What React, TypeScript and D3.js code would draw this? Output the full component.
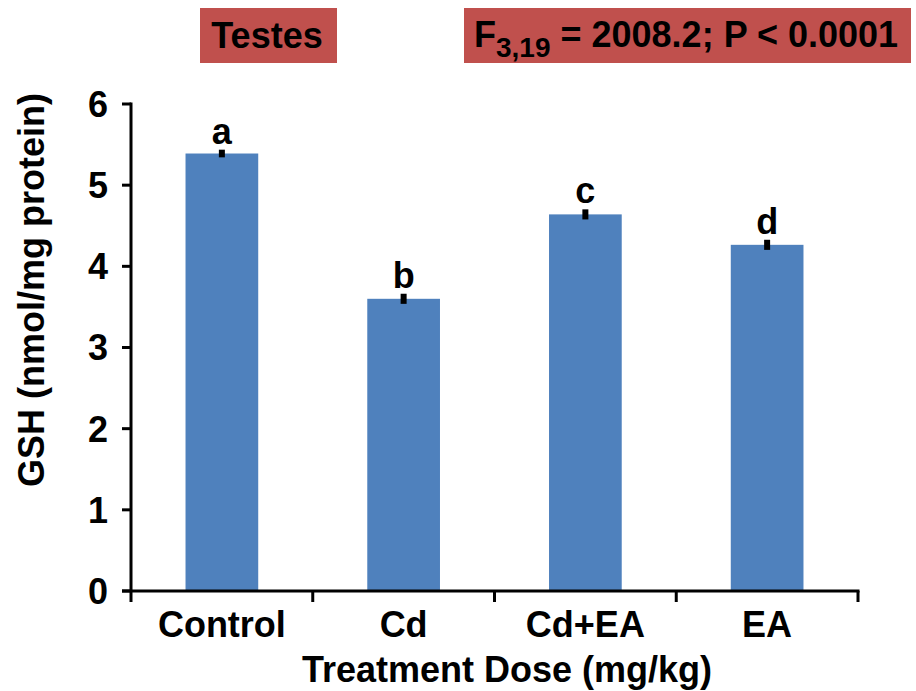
import React from "react";
import * as d3 from "d3";

const categories = ["Control", "Cd", "Cd+EA", "EA"];
const values = [5.39, 3.6, 4.64, 4.265];
const errors = [0.035, 0.05, 0.05, 0.05];
const letters = ["a", "b", "c", "d"];
const yTicks = [0, 1, 2, 3, 4, 5, 6];

const W = 916;
const H = 691;
const FONT = "Arial, 'Liberation Sans', Helvetica, sans-serif";

export default function App() {
  const x = d3.scaleBand<string>().domain(categories).range([131, 858]).paddingInner(0.6).paddingOuter(0.3);
  const y = d3.scaleLinear().domain([0, 6]).range([591, 104]);
  const step = x.step();
  const boundaries = d3.range(categories.length + 1).map((i) => 131 + i * step);

  return (
    <svg width={W} height={H} style={{ position: "absolute", left: 0, top: 0, background: "#fff" }} fontFamily={FONT}>
      {/* title boxes */}
      <rect x={200} y={8} width={137} height={55} fill="#C0504D" />
      <text x={267} y={48} textAnchor="middle" fontSize={36} fontWeight="bold" fill="#000">Testes</text>
      <rect x={464} y={8} width={447} height={55} fill="#C0504D" />
      <text x={474} y={47} fontSize={36} fontWeight="bold" fill="#000">
        F<tspan fontSize={28} dy={10}>3,19</tspan>
        <tspan dy={-10}>{" = 2008.2; P < 0.0001"}</tspan>
      </text>

      {/* bars */}
      {categories.map((c, i) => (
        <rect key={c} x={x(c)} y={y(values[i])} width={x.bandwidth()} height={y(0) - y(values[i])} fill="#4F81BD" />
      ))}

      {/* error bars */}
      {categories.map((c, i) => {
        const cx = (x(c) as number) + x.bandwidth() / 2;
        const top = y(values[i] + errors[i]);
        const bot = y(values[i] - errors[i]);
        return (
          <g key={c} stroke="#000">
            <line x1={cx} x2={cx} y1={top - 1} y2={bot + 1} strokeWidth={6} />
          </g>
        );
      })}

      {/* letters */}
      {categories.map((c, i) => (
        <text key={c} x={(x(c) as number) + x.bandwidth() / 2} y={y(values[i] + errors[i]) - 7} textAnchor="middle" fontSize={36} fontWeight="bold" fill="#000">
          {letters[i]}
        </text>
      ))}

      {/* y axis */}
      <line x1={131} x2={131} y1={y(6) - 1.5} y2={y(0)} stroke="#000" strokeWidth={3} />
      {yTicks.map((t) => (
        <g key={t}>
          <line x1={122} x2={131} y1={y(t)} y2={y(t)} stroke="#000" strokeWidth={3} />
          <text x={108} y={y(t)} dy="0.36em" textAnchor="end" fontSize={36} fontWeight="bold" fill="#000">{t}</text>
        </g>
      ))}

      {/* x axis */}
      <line x1={122} x2={859.5} y1={y(0)} y2={y(0)} stroke="#000" strokeWidth={3} />
      {boundaries.map((b, i) => (
        <line key={i} x1={b} x2={b} y1={y(0)} y2={y(0) + 11} stroke="#000" strokeWidth={3} />
      ))}
      {categories.map((c) => (
        <text key={c} x={(x(c) as number) + x.bandwidth() / 2} y={637} textAnchor="middle" fontSize={36} fontWeight="bold" fill="#000">{c}</text>
      ))}

      {/* axis titles */}
      <text x={507} y={682} textAnchor="middle" fontSize={36} fontWeight="bold" fill="#000">Treatment Dose (mg/kg)</text>
      <text transform="translate(44,290) rotate(-90)" textAnchor="middle" fontSize={36} fontWeight="bold" fill="#000">GSH (nmol/mg protein)</text>
    </svg>
  );
}
